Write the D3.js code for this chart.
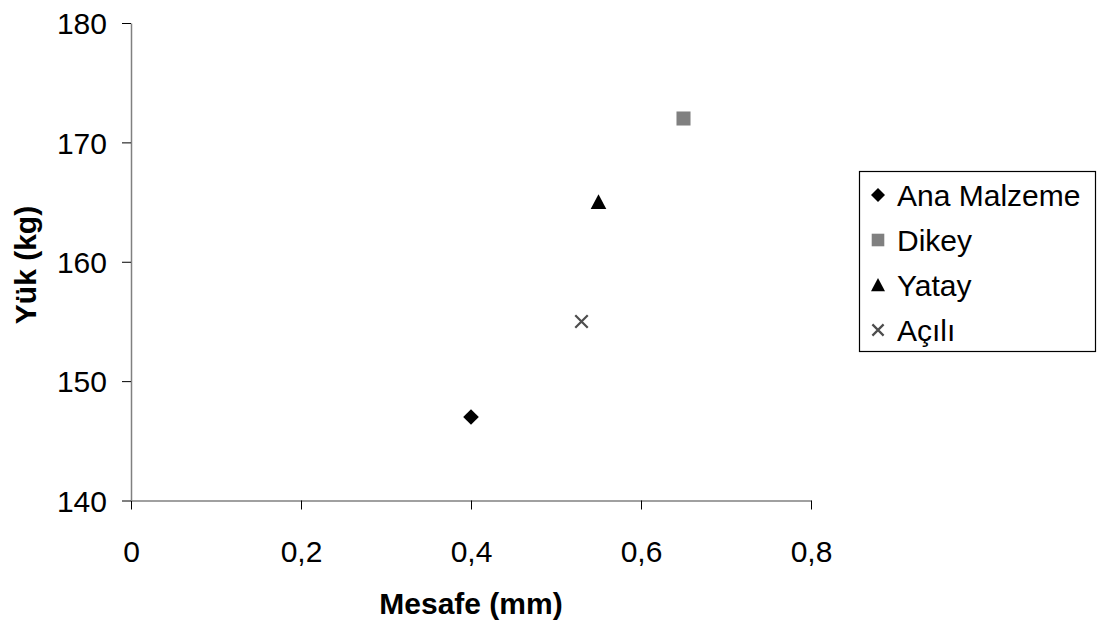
<!DOCTYPE html>
<html><head><meta charset="utf-8">
<script src="https://cdn.jsdelivr.net/npm/d3@7"></script>
<style>body{margin:0;background:#fff;}svg{display:block;font-family:"Liberation Sans",Arial,sans-serif;}</style>
</head><body><svg id="c" width="1099" height="623"></svg>
<script>
const seriesNames = ["Ana Malzeme", "Dikey", "Yatay", "Açılı"];
const xValues = [0.4, 0.65, 0.55, 0.53];
const yValues = [147, 172, 165, 155];
const xTicks = [0, 0.2, 0.4, 0.6, 0.8];
const yTicks = [140, 150, 160, 170, 180];
const colors = ["#000000", "#808080", "#000000", "#4d4d4d"];
const symbols = ["diamond", "square", "triangle", "cross"];

const svg = d3.select("#c");
const x = d3.scaleLinear().domain([0, 0.8]).range([131, 811]);
const y = d3.scaleLinear().domain([140, 180]).range([500.5, 23]);
const fmt = d => String(d).replace(".", ",");
const FS = 30;

const xa = svg.append("g").attr("transform", "translate(0,500.5)")
  .call(d3.axisBottom(x).tickValues(xTicks).tickFormat(fmt).tickSize(9).tickSizeOuter(0));
const ya = svg.append("g").attr("transform", "translate(131,0)")
  .call(d3.axisLeft(y).tickValues(yTicks).tickSize(9).tickSizeOuter(0));
[xa, ya].forEach(a => {
  a.attr("font-size", FS).attr("font-family", "Liberation Sans, Arial, sans-serif");
  a.selectAll("path").attr("stroke", "#808080").attr("stroke-width", 1.5);
  a.selectAll("line").attr("stroke", "#000").attr("stroke-width", 1);
  a.selectAll("text").attr("fill", "#000");
});
xa.selectAll("text").attr("dy", null).attr("y", 61);
ya.selectAll("text").attr("x", -24).attr("dy", "0.36em");

svg.append("text").attr("x", 471).attr("y", 614).attr("text-anchor", "middle")
  .attr("font-size", FS).attr("font-weight", "bold").text("Mesafe (mm)");
svg.append("text").attr("transform", "translate(36,265) rotate(-90)").attr("text-anchor", "middle")
  .attr("font-size", FS).attr("font-weight", "bold").text("Yük (kg)");

function marker(g, type, color, s) {
  if (type === "diamond") {
    g.append("path").attr("d", `M0,${-s}L${s},0L0,${s}L${-s},0Z`).attr("fill", color);
  } else if (type === "square") {
    g.append("rect").attr("x", -s * 0.9).attr("y", -s * 0.9).attr("width", s * 1.8).attr("height", s * 1.8).attr("fill", color);
  } else if (type === "triangle") {
    g.append("path").attr("d", `M0,${-s}L${s},${s*0.9}L${-s},${s*0.9}Z`).attr("fill", color);
  } else {
    const k = s * 0.8;
    g.append("path").attr("d", `M${-k},${-k}L${k},${k}M${-k},${k}L${k},${-k}`).attr("stroke", color).attr("stroke-width", 2.2).attr("fill", "none");
  }
}
seriesNames.forEach((n, i) => {
  const g = svg.append("g").attr("transform", `translate(${x(xValues[i])},${y(yValues[i])})`);
  marker(g, symbols[i], colors[i], 7.8);
});

// legend
svg.append("rect").attr("x", 859.5).attr("y", 171.5).attr("width", 236).attr("height", 180)
  .attr("fill", "#fff").attr("stroke", "#000").attr("stroke-width", 1.2);
seriesNames.forEach((n, i) => {
  const cy = 195 + i * 45;
  const g = svg.append("g").attr("transform", `translate(878,${cy})`);
  marker(g, symbols[i], colors[i], 7);
  svg.append("text").attr("x", 897).attr("y", cy).attr("dy", "0.36em").attr("font-size", FS).text(n);
});
</script></body></html>
